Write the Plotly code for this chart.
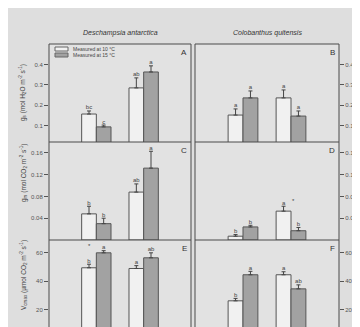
import plotly.graph_objects as go

# ---------------- data ----------------
groups = ["Group 1", "Group 2"]          # x categories (labels not shown in the crop)
series_names = ["Measured at 10 °C", "Measured at 15 °C"]
species = ["Deschampsia antarctica", "Colobanthus quitensis"]
panel_letters = ["A", "B", "C", "D", "E", "F"]

# stomatal conductance g_s
gs_da_10 = [0.157, 0.285]; gs_da_10_err = [0.015, 0.049]
gs_da_15 = [0.094, 0.363]; gs_da_15_err = [0.009, 0.030]
gs_cq_10 = [0.152, 0.236]; gs_cq_10_err = [0.030, 0.039]
gs_cq_15 = [0.236, 0.147]; gs_cq_15_err = [0.034, 0.025]
# mesophyll conductance g_m
gm_da_10 = [0.048, 0.088]; gm_da_10_err = [0.014, 0.015]
gm_da_15 = [0.030, 0.132]; gm_da_15_err = [0.010, 0.031]
gm_cq_10 = [0.007, 0.053]; gm_cq_10_err = [0.003, 0.009]
gm_cq_15 = [0.024, 0.017]; gm_cq_15_err = [0.003, 0.006]
# Vcmax
vc_da_10 = [49.5, 49.0]; vc_da_10_err = [2.5, 2.0]
vc_da_15 = [60.0, 56.5]; vc_da_15_err = [1.5, 3.5]
vc_cq_10 = [26.3, 44.6]; vc_cq_10_err = [1.7, 2.1]
vc_cq_15 = [44.6, 34.7]; vc_cq_15_err = [2.4, 2.8]

# significance letters
let_A = (["bc", "ab"], ["c", "a"])
let_B = (["a", "a"], ["a", "a"])
let_C = (["b", "ab"], ["b", "a"])
let_D = (["b", "a"], ["b", "b"])
let_E = (["b", "a"], ["a", "ab"])
let_F = (["b", "a"], ["a", "ab"])

# y ticks
ticks_gs = [0.1, 0.2, 0.3, 0.4]
ticks_gm = [0.04, 0.08, 0.12, 0.16]
ticks_vc = [20, 40, 60]

ytitle_gs = "g<sub>s</sub> (mol H<sub>2</sub>O m<sup>-2</sup> s<sup>-1</sup>)"
ytitle_gm = "g<sub>m</sub> (mol CO<sub>2</sub> m<sup>-2</sup> s<sup>-1</sup>)"
ytitle_vc = "V<sub>cmax</sub> (µmol CO<sub>2</sub> m<sup>-2</sup> s<sup>-1</sup>)"

# ---------------- style / layout ----------------
W, H = 360, 327
BG = "#dedede"
LINE = "#4a4a4a"
TXT = "#444444"
WHITE_FILL = "#f1f1f1"
GRAY_FILL = "#a2a2a2"
FONT = "Liberation Sans, Arial, sans-serif"
BAR_W = 0.31
OFF = BAR_W / 2

def px(x):
    return x / W

def py(y):
    return 1 - y / H

col_x = [(41, 183), (187, 331)]
row_y = [(36, 134), (134, 232), (232, 327)]

panels = [
    (gs_da_10, gs_da_10_err, gs_da_15, gs_da_15_err, let_A, [0.02, 0.5], ticks_gs, "0.1f"),
    (gs_cq_10, gs_cq_10_err, gs_cq_15, gs_cq_15_err, let_B, [0.02, 0.5], ticks_gs, "0.1f"),
    (gm_da_10, gm_da_10_err, gm_da_15, gm_da_15_err, let_C, [0, 0.18], ticks_gm, "0.2f"),
    (gm_cq_10, gm_cq_10_err, gm_cq_15, gm_cq_15_err, let_D, [0, 0.18], ticks_gm, "0.2f"),
    (vc_da_10, vc_da_10_err, vc_da_15, vc_da_15_err, let_E, [2.3, 69], ticks_vc, "d"),
    (vc_cq_10, vc_cq_10_err, vc_cq_15, vc_cq_15_err, let_F, [2.3, 69], ticks_vc, "d"),
]

fig = go.Figure()
layout_axes = {}
annotations = []
shapes = []

idx = list(range(len(groups)))

for p, (v10, e10, v15, e15, lets, yr, tv, fmt) in enumerate(panels):
    r, c = divmod(p, 2)
    n = p + 1
    xa = "x" if n == 1 else f"x{n}"
    ya = "y" if n == 1 else f"y{n}"
    for vals, errs, fill, sign, labs in [
        (v10, e10, WHITE_FILL, -1, lets[0]),
        (v15, e15, GRAY_FILL, 1, lets[1]),
    ]:
        xs = [i + sign * OFF for i in idx]
        fig.add_trace(go.Bar(
            x=xs, y=vals, width=BAR_W, xaxis=xa, yaxis=ya,
            marker=dict(color=fill, line=dict(color="#555555", width=1)),
            error_y=dict(type="data", symmetric=False, array=errs,
                         arrayminus=[0] * len(errs), color="#444444",
                         thickness=1, width=2),
            showlegend=False, hoverinfo="skip",
        ))
        fig.add_trace(go.Scatter(
            x=xs, y=[v + e for v, e in zip(vals, errs)], xaxis=xa, yaxis=ya,
            mode="text", text=labs, textposition="top center",
            textfont=dict(size=6, color=TXT, family=FONT),
            showlegend=False, hoverinfo="skip", cliponaxis=False,
        ))
    x0, x1 = col_x[c]
    y0, y1 = row_y[r]
    layout_axes["xaxis" if n == 1 else f"xaxis{n}"] = dict(
        domain=[px(x0), px(x1)], range=[-1, 2], anchor=ya,
        showticklabels=False, ticks="", showgrid=False, zeroline=False,
        showline=False, fixedrange=True,
    )
    layout_axes["yaxis" if n == 1 else f"yaxis{n}"] = dict(
        domain=[py(y1), py(y0)], range=yr, anchor=xa,
        side="left" if c == 0 else "right",
        tickvals=tv, tickformat=fmt, ticks="outside", ticklen=4,
        tickcolor="#555555", tickwidth=1,
        tickfont=dict(size=6, color="#555555", family=FONT),
        showgrid=False, zeroline=False, showline=False, fixedrange=True,
    )
    # panel letter
    annotations.append(dict(
        text=panel_letters[p], x=px(x1 - 2), y=py(y0 + 2), xref="paper", yref="paper",
        xanchor="right", yanchor="top", showarrow=False,
        font=dict(size=8, color="#333333", family=FONT),
    ))

# significance asterisks (D: white bar of group 2; E: group 1)
annotations.append(dict(text="*", x=1 - OFF + 0.2, y=gm_cq_10[1] + gm_cq_10_err[1],
                        xref="x4", yref="y4", showarrow=False, yanchor="bottom",
                        xanchor="center",
                        font=dict(size=6, color=TXT, family=FONT)))
annotations.append(dict(text="*", x=0 - OFF, y=vc_da_15[0] + vc_da_15_err[0],
                        xref="x5", yref="y5", showarrow=False, yanchor="bottom",
                        xanchor="center",
                        font=dict(size=6, color=TXT, family=FONT)))

# species titles
for c, name in enumerate(species):
    x0, x1 = col_x[c]
    annotations.append(dict(
        text=f"<i>{name}</i>", x=px((x0 + x1) / 2), y=py(25), xref="paper", yref="paper",
        xanchor="center", yanchor="middle",
        showarrow=False, font=dict(size=7, color="#333333", family=FONT),
    ))

# y axis titles (left and right)
for title, yl, yrr in [(ytitle_gs, 85, 85), (ytitle_gm, 165, 168), (ytitle_vc, 267, 270)]:
    annotations.append(dict(
        text=title, x=px(15), y=py(yl), xref="paper", yref="paper", textangle=-90,
        xanchor="center", yanchor="middle",
        showarrow=False, font=dict(size=6.5, color="#444444", family=FONT),
    ))
    annotations.append(dict(
        text=title, x=px(357), y=py(yrr), xref="paper", yref="paper", textangle=90,
        xanchor="center", yanchor="middle",
        showarrow=False, font=dict(size=6.5, color="#444444", family=FONT),
    ))

# legend drawn inside panel A
for k, (name, fill) in enumerate(zip(series_names, [WHITE_FILL, GRAY_FILL])):
    yc = 41 + k * 6
    shapes.append(dict(type="rect", xref="paper", yref="paper",
                       x0=px(47), x1=px(60), y0=py(yc + 2), y1=py(yc - 2),
                       fillcolor=fill, line=dict(color="#666666", width=1)))
    annotations.append(dict(
        text=name, x=px(63), y=py(yc), xref="paper", yref="paper",
        xanchor="left", yanchor="middle", showarrow=False,
        font=dict(size=5, color="#444444", family=FONT),
    ))

# panel frames
for (x0, x1) in col_x:
    for xv in (x0, x1):
        shapes.append(dict(type="line", xref="paper", yref="paper",
                           x0=px(xv), x1=px(xv), y0=py(36), y1=py(327),
                           line=dict(color=LINE, width=1)))
    for yv in (36, 134, 232):
        shapes.append(dict(type="line", xref="paper", yref="paper",
                           x0=px(x0), x1=px(x1), y0=py(yv), y1=py(yv),
                           line=dict(color=LINE, width=1)))

fig.update_layout(
    width=W, height=H, autosize=False,
    margin=dict(l=0, r=0, t=0, b=0),
    paper_bgcolor=BG, plot_bgcolor="#e2e2e2",
    barmode="overlay", showlegend=False,
    font=dict(family=FONT),
    annotations=annotations, shapes=shapes,
    **layout_axes,
)

fig.write_html("out.html", config={"displayModeBar": False})
